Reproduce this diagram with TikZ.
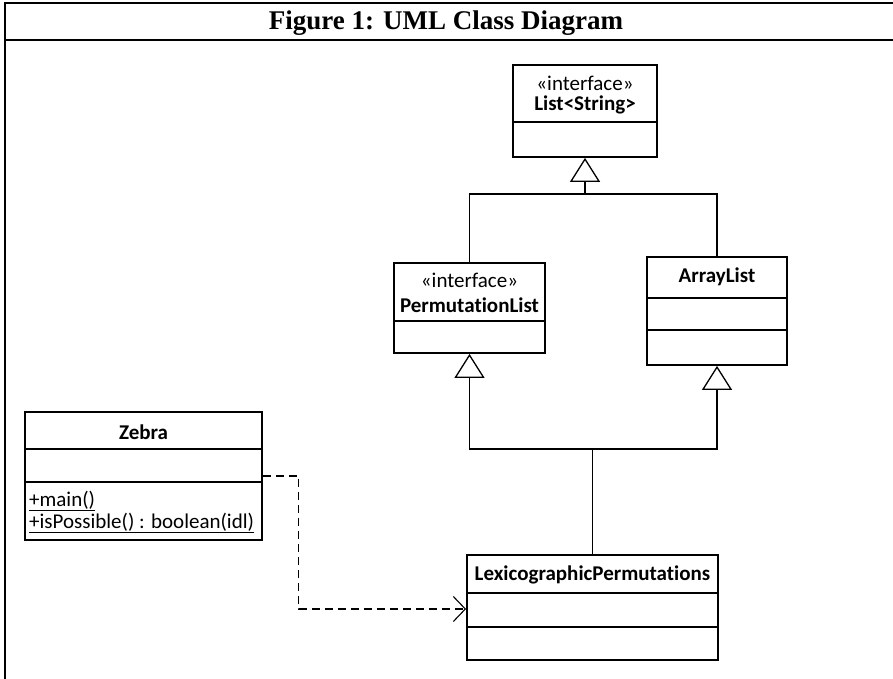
\documentclass[tikz,border=0pt]{standalone}
\usepackage{fontspec}
\setmainfont{Liberation Serif}
\newfontfamily\calibri[Ligatures=NoCommon]{Carlito}
\usetikzlibrary{arrows.meta}

\begin{document}
\begin{tikzpicture}[x=1pt,y=-1pt,
  cls/.style={draw, line width=1.8pt, inner sep=0pt},
  lbl/.style={font=\calibri\fontsize{21}{24}\selectfont, inner sep=0pt},
  clsname/.style={font=\calibri\bfseries\fontsize{21}{24}\selectfont, inner sep=0pt},
  gen/.style={line width=1.1pt, -{Triangle[open, length=24pt, width=30pt, line width=1.3pt]}},
  dep/.style={line width=1.1pt, dash pattern=on 8pt off 5pt, -{Straight Barb[length=12pt, width=25pt]}}]
\useasboundingbox (0,0) rectangle (893,679);
% frame and title
\draw[line width=2.4pt] (893,3) -- (5,3) -- (5,679);
\draw[line width=2.4pt] (5,40) -- (893,40);
\node[font=\bfseries\fontsize{27}{30}\selectfont] at (446,23) (title) {Figure 1: UML Class Diagram};

% classes
\node[cls, minimum width=144, minimum height=92] at (585,111) (list) {};
\node[cls, minimum width=151, minimum height=90] at (469.5,308) (perm) {};
\node[cls, minimum width=140, minimum height=108] at (717,311) (arr) {};
\node[cls, minimum width=251, minimum height=105] at (592.5,607.5) (lex) {};
\node[cls, minimum width=237, minimum height=128] at (143.5,476) (zebra) {};

\draw[line width=1.8pt] (list.west |- 0,122) -- (list.east |- 0,122);
\draw[line width=1.8pt] (perm.west |- 0,321) -- (perm.east |- 0,321);
\draw[line width=1.8pt] (arr.west |- 0,298) -- (arr.east |- 0,298);
\draw[line width=1.8pt] (arr.west |- 0,330) -- (arr.east |- 0,330);
\draw[line width=1.8pt] (lex.west |- 0,593) -- (lex.east |- 0,593);
\draw[line width=1.8pt] (lex.west |- 0,627) -- (lex.east |- 0,627);
\draw[line width=1.8pt] (zebra.west |- 0,449) -- (zebra.east |- 0,449);
\draw[line width=1.8pt] (zebra.west |- 0,482) -- (zebra.east |- 0,482);

% texts
\node[lbl] at (585,83) (liststereo) {«interface»};
\node[clsname] at (585,105) (listname) {List<String>};
\node[lbl] at (469.5,280) (permstereo) {«interface»};
\node[clsname] at (469.5,305) (permname) {PermutationList};
\node[clsname] at (717,277) (arrname) {ArrayList};
\node[clsname] at (592.5,575) (lexname) {LexicographicPermutations};
\node[clsname] at (143.5,432) (zebraname) {Zebra};
\node[lbl, anchor=west] at (29,501) (zebramain) {\underline{+main()}};
\node[lbl, anchor=west] at (29,523) (zebraposs) {\underline{+isPossible() : boolean(idl)}};

% connectors
\coordinate (top) at (585,194);
\draw[gen] (top) -- (list.south);
\draw[line width=1.1pt] (perm.north) |- (top) -| (arr.north);
\coordinate (bot) at (lex.north |- 0,449);
\draw[line width=1.1pt] (lex.north) -- (bot);
\draw[gen] (bot) -| (perm.south);
\draw[gen] (bot) -| (arr.south);
\coordinate (lexin) at (lex.west |- 0,609);
\draw[dep] (zebra.east) -- ++(36,0) |- (lexin);
\end{tikzpicture}
\end{document}
